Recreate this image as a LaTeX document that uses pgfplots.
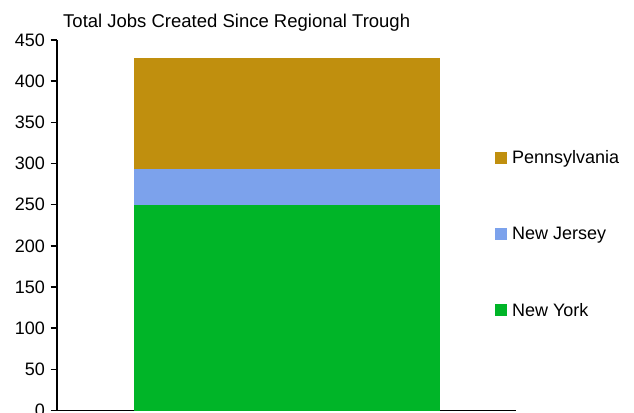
\documentclass[border=0pt]{standalone}
\usepackage{pgfplots}
\pgfplotsset{compat=1.18}
\usepackage{fontspec}
\setmainfont{Liberation Sans}

\definecolor{nycol}{RGB}{0,181,40}
\definecolor{njcol}{RGB}{124,162,236}
\definecolor{pacol}{RGB}{192,143,14}

\pgfplotsset{
  sqlegend/.style={legend image code/.code={\fill[##1] (0pt,-6pt) rectangle (12pt,6pt);}},
}

\begin{document}
\begin{tikzpicture}
\useasboundingbox (-57pt,-1.5pt) rectangle (577pt,410.5pt);
\begin{axis}[
  scale only axis, width=459pt, height=370.5pt,
  at={(0pt,0pt)}, anchor=south west,
  ybar stacked, bar width=306pt,
  xmin=-0.75, xmax=0.75, ymin=0, ymax=450,
  ytick={0,50,...,450}, xtick=\empty,
  axis x line=bottom, axis y line=left,
  axis line style={line width=1.5pt, -},
  tick align=outside, major tick length=6.5pt,
  tick style={line width=1.5pt, black},
  /pgf/number format/assume math mode=true,
  ticklabel style={font=\fontsize{18}{21}\selectfont},
  yticklabel style={xshift=-2pt},
  title={Total Jobs Created Since Regional Trough},
  title style={at={(rel axis cs:0,1)}, anchor=base west, inner sep=0pt,
    xshift=6pt, yshift=7pt, font=\fontsize{18.5}{22}\selectfont},
  reverse legend,
  legend cell align=left,
  legend style={at={(rel axis cs:0.954,0.476)}, anchor=west, draw=none, fill=none,
    inner sep=0pt, row sep=58pt, font=\fontsize{18}{21}\selectfont,
    /tikz/every odd column/.append style={column sep=3pt}},
]
\addplot[fill=nycol, draw=none, sqlegend] coordinates {(0,250)};
\addlegendentry{New York}
\addplot[fill=njcol, draw=none, sqlegend] coordinates {(0,43)};
\addlegendentry{New Jersey}
\addplot[fill=pacol, draw=none, sqlegend] coordinates {(0,135)};
\addlegendentry{Pennsylvania}
\end{axis}
\end{tikzpicture}
\end{document}
